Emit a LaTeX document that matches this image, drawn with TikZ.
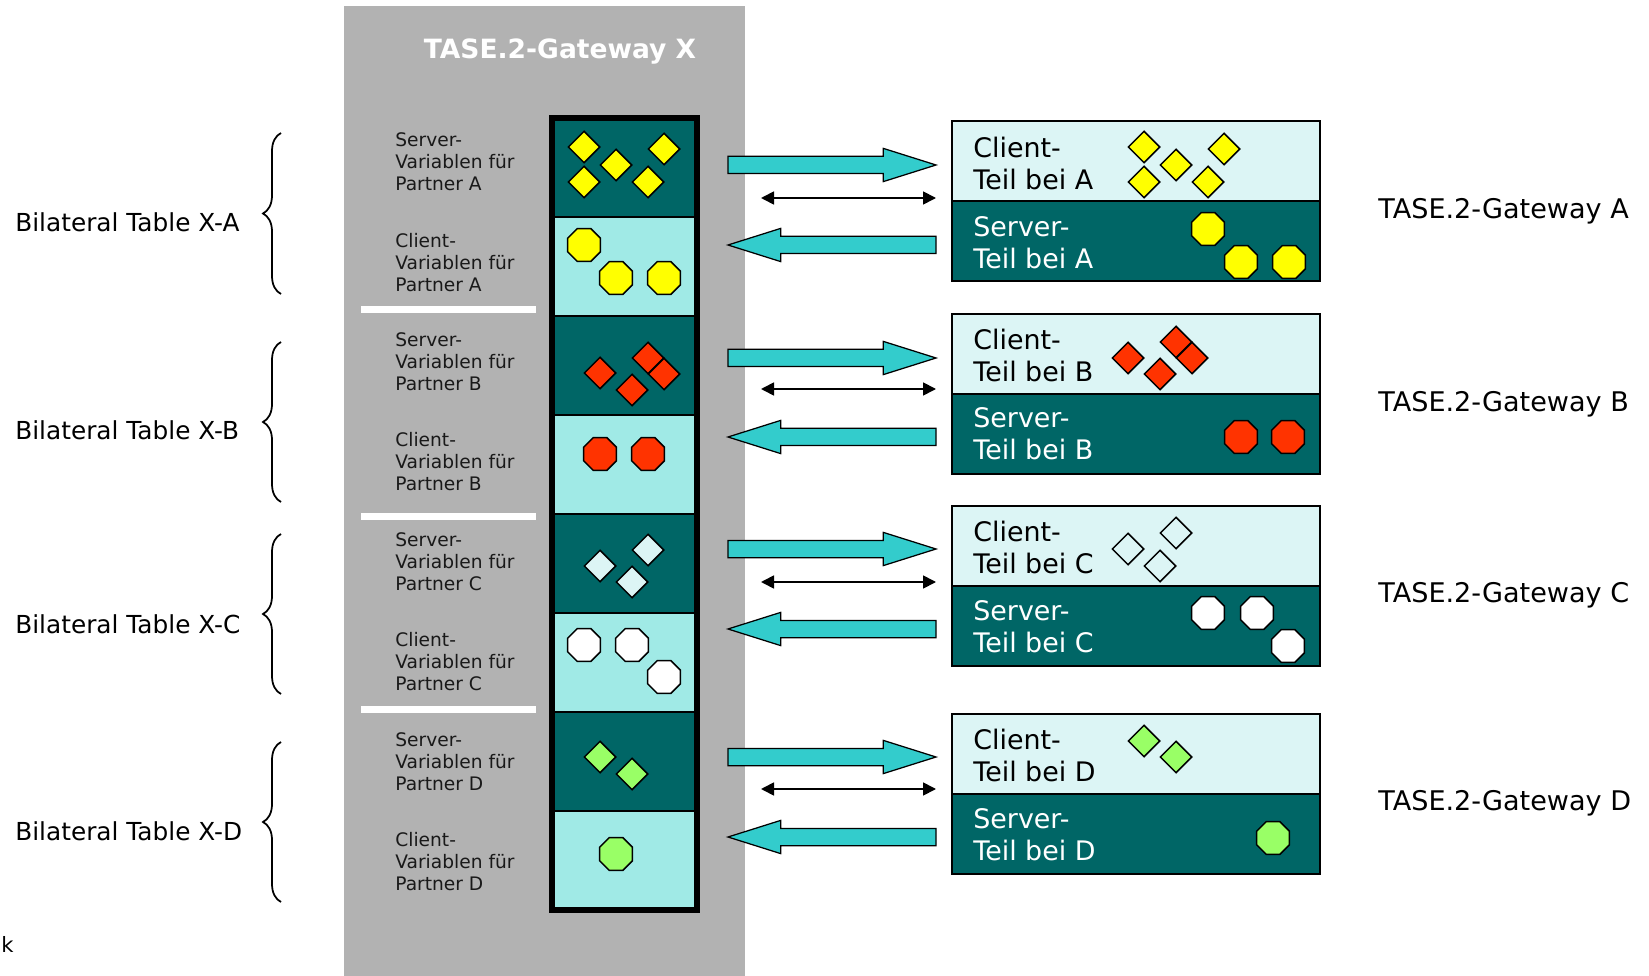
\documentclass[tikz,border=0pt]{standalone}
\usepackage{fontspec}
\setmainfont{DejaVu Sans}
\usetikzlibrary{shapes.geometric,shapes.arrows,decorations.pathreplacing,arrows.meta}

\definecolor{panelgray}{RGB}{178,178,178}
\definecolor{darkteal}{RGB}{0,102,102}
\definecolor{cellcyan}{RGB}{160,234,230}
\definecolor{paleteal}{RGB}{220,245,245}
\definecolor{flowcyan}{RGB}{51,204,204}
\definecolor{varyellow}{RGB}{255,255,0}
\definecolor{varred}{RGB}{255,51,0}
\definecolor{vargreen}{RGB}{153,255,102}

\tikzset{
  srvcell/.style={rectangle,draw=black,line width=0.4mm,fill=darkteal,minimum width=29mm,minimum height=19.8mm,inner sep=0pt,outer sep=0pt},
  clicell/.style={srvcell,fill=cellcyan},
  clientpart/.style={rectangle,draw=black,line width=0.4mm,fill=paleteal,minimum width=73.6mm,minimum height=16mm,inner sep=0pt,outer sep=0pt},
  serverpart/.style={clientpart,fill=darkteal},
  dia/.style={diamond,draw=black,line width=0.3mm,minimum width=6.4mm,minimum height=6.4mm,inner sep=0pt},
  octo/.style={regular polygon,regular polygon sides=8,draw=black,line width=0.3mm,minimum size=7.1mm,inner sep=0pt},
  varlabel/.style={anchor=west,align=left,inner sep=0pt,text=black!90,font=\fontsize{10.6}{12.5}\selectfont},
  partlabel/.style={anchor=west,align=left,inner sep=0pt,font=\fontsize{15.3}{18.2}\selectfont},
  bilabel/.style={anchor=west,inner sep=0pt,font=\fontsize{14.1}{16}\selectfont},
  gwlabel/.style={anchor=west,inner sep=0pt,font=\fontsize{15.4}{18}\selectfont},
  bilbrace/.style={decorate,decoration={brace,amplitude=3.6mm},line width=0.35mm},
  fatarrow/.style={single arrow,draw=black,line width=0.25mm,fill=flowcyan,minimum height=41.6mm,inner xsep=0pt,inner ysep=1.6mm,single arrow head extend=1.6mm,single arrow tip angle=35,single arrow head indent=0pt,outer sep=0pt},
  duplex/.style={{Triangle[length=2.6mm,width=2.6mm]}-{Triangle[length=2.6mm,width=2.6mm]},line width=0.35mm}
}

\begin{document}
\begin{tikzpicture}[x=0.2mm,y=-0.2mm]
\useasboundingbox (0,0) rectangle (1649,976);
\fill[panelgray] (344,6) rectangle (745,976);
\node[text=white,font=\bfseries\fontsize{15.1}{18}\selectfont] (gwX) at (560,52) {TASE.2-Gateway X};

\fill[white] (361,306) rectangle (536,313);
\fill[white] (361,513) rectangle (536,520);
\fill[white] (361,706) rectangle (536,713);

\node[srvcell] (sA) at (624.5,167.5) {};
\node[clicell] (cA) at (624.5,266.5) {};
\node[srvcell] (sB) at (624.5,365.5) {};
\node[clicell] (cB) at (624.5,464.5) {};
\node[srvcell] (sC) at (624.5,563.5) {};
\node[clicell] (cC) at (624.5,662.5) {};
\node[srvcell] (sD) at (624.5,761.5) {};
\node[clicell] (cD) at (624.5,860.5) {};
\draw[line width=1.2mm] (sA.north west) rectangle (cD.south east);

\node[varlabel] (vsA) at (395,162) {Server-\\Variablen für\\Partner A};
\node[varlabel] (vcA) at (395,263) {Client-\\Variablen für\\Partner A};
\node[varlabel] (vsB) at (395,362) {Server-\\Variablen für\\Partner B};
\node[varlabel] (vcB) at (395,462) {Client-\\Variablen für\\Partner B};
\node[varlabel] (vsC) at (395,562) {Server-\\Variablen für\\Partner C};
\node[varlabel] (vcC) at (395,662) {Client-\\Variablen für\\Partner C};
\node[varlabel] (vsD) at (395,762) {Server-\\Variablen für\\Partner D};
\node[varlabel] (vcD) at (395,862) {Client-\\Variablen für\\Partner D};

\node[dia,fill=varyellow] (sA1) at (584,147) {};
\node[dia,fill=varyellow] (sA2) at (616,165) {};
\node[dia,fill=varyellow] (sA3) at (664,149) {};
\node[dia,fill=varyellow] (sA4) at (584,182) {};
\node[dia,fill=varyellow] (sA5) at (648,182) {};
\node[octo,fill=varyellow] (cA1) at (584,245) {};
\node[octo,fill=varyellow] (cA2) at (616,278) {};
\node[octo,fill=varyellow] (cA3) at (664,278) {};

\node[dia,fill=varred] (sB1) at (600,373) {};
\node[dia,fill=varred] (sB2) at (632,390) {};
\node[dia,fill=varred] (sB3) at (648,358) {};
\node[dia,fill=varred] (sB4) at (664,374) {};
\node[octo,fill=varred] (cB1) at (600,454) {};
\node[octo,fill=varred] (cB2) at (648,454) {};

\node[dia,fill=paleteal] (sC1) at (600,566) {};
\node[dia,fill=paleteal] (sC2) at (632,582) {};
\node[dia,fill=paleteal] (sC3) at (648,550) {};
\node[octo,fill=white] (cC1) at (584,645) {};
\node[octo,fill=white] (cC2) at (632,645) {};
\node[octo,fill=white] (cC3) at (664,677) {};

\node[dia,fill=vargreen] (sD1) at (600,757) {};
\node[dia,fill=vargreen] (sD2) at (632,774) {};
\node[octo,fill=vargreen] (cD1) at (616,854) {};

\draw[bilbrace] (281,294) -- (281,133);
\draw[bilbrace] (281,502) -- (281,342);
\draw[bilbrace] (281,694) -- (281,534);
\draw[bilbrace] (281,902) -- (281,742);
\node[bilabel] (btA) at (15,222) {Bilateral Table X-A};
\node[bilabel] (btB) at (15,430) {Bilateral Table X-B};
\node[bilabel] (btC) at (15,624) {Bilateral Table X-C};
\node[bilabel] (btD) at (15,831) {Bilateral Table X-D};

\node[clientpart] (cpA) at (1136,161) {};
\node[serverpart] (spA) at (1136,241) {};
\node[clientpart] (cpB) at (1136,354) {};
\node[serverpart] (spB) at (1136,434) {};
\node[clientpart] (cpC) at (1136,546) {};
\node[serverpart] (spC) at (1136,626) {};
\node[clientpart] (cpD) at (1136,754) {};
\node[serverpart] (spD) at (1136,834) {};

\node[partlabel] (ctA) at (973,163) {Client-\\Teil bei A};
\node[partlabel,text=white] (stA) at (973,243) {Server-\\Teil bei A};
\node[partlabel] (ctB) at (973,355) {Client-\\Teil bei B};
\node[partlabel,text=white] (stB) at (973,434) {Server-\\Teil bei B};
\node[partlabel] (ctC) at (973,547) {Client-\\Teil bei C};
\node[partlabel,text=white] (stC) at (973,627) {Server-\\Teil bei C};
\node[partlabel] (ctD) at (973,755) {Client-\\Teil bei D};
\node[partlabel,text=white] (stD) at (973,835) {Server-\\Teil bei D};

\node[dia,fill=varyellow] (pA1) at (1144,147) {};
\node[dia,fill=varyellow] (pA2) at (1176,165) {};
\node[dia,fill=varyellow] (pA3) at (1224,149) {};
\node[dia,fill=varyellow] (pA4) at (1144,182) {};
\node[dia,fill=varyellow] (pA5) at (1208,182) {};
\node[octo,fill=varyellow] (qA1) at (1208,229) {};
\node[octo,fill=varyellow] (qA2) at (1241,262) {};
\node[octo,fill=varyellow] (qA3) at (1289,262) {};

\node[dia,fill=varred] (pB1) at (1128,358) {};
\node[dia,fill=varred] (pB2) at (1160,374) {};
\node[dia,fill=varred] (pB3) at (1176,342) {};
\node[dia,fill=varred] (pB4) at (1192,358) {};
\node[octo,fill=varred] (qB1) at (1241,437) {};
\node[octo,fill=varred] (qB2) at (1288,437) {};

\node[dia,fill=paleteal] (pC1) at (1128,549) {};
\node[dia,fill=paleteal] (pC2) at (1160,566) {};
\node[dia,fill=paleteal] (pC3) at (1176,533) {};
\node[octo,fill=white] (qC1) at (1208,613) {};
\node[octo,fill=white] (qC2) at (1257,613) {};
\node[octo,fill=white] (qC3) at (1288,646) {};

\node[dia,fill=vargreen] (pD1) at (1144,741) {};
\node[dia,fill=vargreen] (pD2) at (1176,757) {};
\node[octo,fill=vargreen] (qD1) at (1273,838) {};

\node[gwlabel] (gwA) at (1378,211) {TASE.2-Gateway A};
\node[gwlabel] (gwB) at (1378,404) {TASE.2-Gateway B};
\node[gwlabel] (gwC) at (1378,595) {TASE.2-Gateway C};
\node[gwlabel] (gwD) at (1378,803) {TASE.2-Gateway D};

\node[fatarrow,anchor=tail] (toA) at (728,165) {};
\node[fatarrow,shape border rotate=180,anchor=tail] (fromA) at (936,245) {};
\node[fatarrow,anchor=tail] (toB) at (728,358) {};
\node[fatarrow,shape border rotate=180,anchor=tail] (fromB) at (936,437) {};
\node[fatarrow,anchor=tail] (toC) at (728,549) {};
\node[fatarrow,shape border rotate=180,anchor=tail] (fromC) at (936,629) {};
\node[fatarrow,anchor=tail] (toD) at (728,757) {};
\node[fatarrow,shape border rotate=180,anchor=tail] (fromD) at (936,837) {};

\coordinate (lA) at (761,198);
\coordinate (rA) at (936,198);
\coordinate (lB) at (761,389);
\coordinate (rB) at (936,389);
\coordinate (lC) at (761,582);
\coordinate (rC) at (936,582);
\coordinate (lD) at (761,789);
\coordinate (rD) at (936,789);
\draw[duplex] (lA) -- (rA);
\draw[duplex] (lB) -- (rB);
\draw[duplex] (lC) -- (rC);
\draw[duplex] (lD) -- (rD);

\node[anchor=west,inner sep=0pt,font=\fontsize{12}{14}\selectfont] (note) at (1,944) {k};
\end{tikzpicture}
\end{document}
